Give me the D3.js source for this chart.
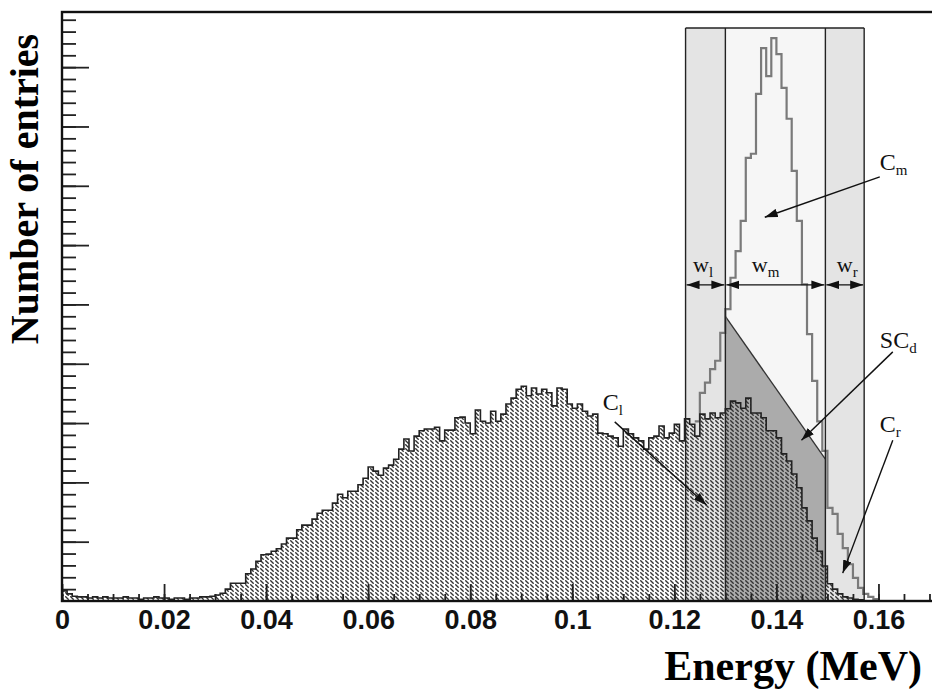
<!DOCTYPE html>
<html>
<head>
<meta charset="utf-8">
<script src="https://cdn.jsdelivr.net/npm/d3@7/dist/d3.min.js"></script>
<style>
  body { margin: 0; background: #fff; }
  svg { display: block; }
</style>
</head>
<body>
<div id="chart"></div>
<script>
// histogram, bins of 1 keV starting at 0 MeV
const binWidth = 0.001
// background spectrum (hatched, C_l + under the peak)
const bgCounts = [
  17, 12, 8, 7, 7, 5, 7, 5, 7, 5, 5, 5, 7, 5, 5, 3, 5, 5, 7, 5,
  5, 3, 5, 5, 3, 5, 5, 7, 7, 8, 10, 13, 20, 30, 30, 30, 46, 54, 67, 78,
  79, 84, 88, 96, 106, 106, 120, 128, 128, 138, 148, 153, 153, 165, 180, 174, 185, 185, 196, 207,
  226, 219, 212, 224, 229, 239, 256, 273, 253, 278, 287, 290, 290, 293, 270, 288, 288, 309, 310, 300,
  282, 322, 303, 300, 320, 303, 315, 332, 342, 357, 362, 346, 359, 349, 357, 351, 329, 359, 357, 332,
  325, 332, 320, 312, 315, 283, 282, 278, 275, 261, 290, 282, 275, 270, 256, 275, 278, 295, 275, 283,
  298, 270, 307, 298, 278, 315, 307, 317, 309, 317, 324, 337, 334, 325, 342, 317, 317, 309, 287, 287,
  275, 248, 236, 214, 191, 157, 135, 106, 84, 59, 29, 20, 12, 7, 5, 3, 2, 0, 0, 0,
  0, 0, 0, 0, 0, 0, 0, 0, 0, 0
]
// full spectrum with the photo-peak (grey outline), from bin 124 on
const totalStartBin = 124
const totalCounts = [
  303, 351, 368, 391, 405, 452, 492, 545, 590, 641, 747, 754, 855, 932, 885, 949, 922, 865,
  813, 725, 641, 534, 450, 371, 303, 253, 157, 147, 113, 89, 62, 39, 22, 12, 7, 3
]
// windows: left edge, l|m, m|r, right edge
const windowEdges = [0.1222, 0.13, 0.1496, 0.1572]
const windowTop = 966
const windowNames = ["l", "m", "r"]
// straight background estimate under the peak window
const bgLine = [[0.13, 480], [0.1496, 239]]

const xTicks = [0, 0.02, 0.04, 0.06, 0.08, 0.1, 0.12, 0.14, 0.16]
const xTickLabels = ["0", "0.02", "0.04", "0.06", "0.08", "0.1", "0.12", "0.14", "0.16"]
const yMajor = [100, 200, 300, 400, 500, 600, 700, 800, 900]

// annotations in data units (energy, entries)
const notes = [
  {t: "C", s: "m", e: 0.16026, n: 727},
  {t: "SC", s: "d", e: 0.16026, n: 427},
  {t: "C", s: "l", e: 0.10597, n: 322},
  {t: "C", s: "r", e: 0.16026, n: 285},
  {t: "w", s: "l", e: 0.12366, n: 555},
  {t: "w", s: "m", e: 0.13518, n: 555},
  {t: "w", s: "r", e: 0.15184, n: 555}
]
const pointers = [
  [0.16026, 715, 0.13772, 647],
  [0.16281, 420, 0.14491, 271],
  [0.10832, 302, 0.1263, 162],
  [0.16281, 271, 0.153, 47]
]
const widthArrowLevel = 533

var W = 932, H = 691
var svg = d3.select("#chart").append("svg")
    .attr("width", W)
    .attr("height", H)
    .style("background", "#fff")

var x = d3.scaleLinear().domain([0, 0.175]).range([62, 955])
var y = d3.scaleLinear().domain([0, 993]).range([601, 12])

var defs = svg.append("defs")
defs.append("clipPath").attr("id", "plot")
    .append("rect").attr("x", 62).attr("y", 12).attr("width", 893).attr("height", 589)

var hatch = defs.append("pattern").attr("id", "hatch")
    .attr("patternUnits", "userSpaceOnUse")
    .attr("width", 5).attr("height", 4)
hatch.append("path").attr("d", "M0.3,0.3L3.7,3.7")
    .attr("stroke", "#333").attr("stroke-width", 1.35).attr("fill", "none")

defs.append("marker").attr("id", "head")
    .attr("markerUnits", "userSpaceOnUse")
    .attr("viewBox", "0 0 12 8")
    .attr("markerWidth", 13).attr("markerHeight", 9)
    .attr("refX", 12).attr("refY", 4)
    .attr("orient", "auto-start-reverse")
    .append("path").attr("d", "M0,0L12,4L0,8Z").attr("fill", "#111")

var g = svg.append("g").attr("clip-path", "url(#plot)")

//window shading
var winFill = ["#e4e4e4", "#f6f6f6", "#e4e4e4"]
g.selectAll("rect.win")
    .data(windowNames)
    .enter()
    .append("rect")
    .attr("x", (d, i) => x(windowEdges[i]))
    .attr("y", y(windowTop))
    .attr("width", (d, i) => x(windowEdges[i + 1]) - x(windowEdges[i]))
    .attr("height", y(0) - y(windowTop))
    .attr("fill", (d, i) => winFill[i])

//linear background trapezoid
g.append("path")
    .attr("d", d3.area().x(d => x(d[0])).y0(y(0)).y1(d => y(d[1]))(bgLine))
    .attr("fill", "#ababab")
g.append("path")
    .attr("d", d3.line().x(d => x(d[0])).y(d => y(d[1]))(bgLine))
    .attr("stroke", "#333").attr("stroke-width", 1.3).attr("fill", "none")

//hatched spectrum
var bgPts = bgCounts.map((c, i) => [i * binWidth, c])
bgPts.push([bgCounts.length * binWidth, 0])

g.append("path")
    .attr("d", d3.area().curve(d3.curveStepAfter)
        .x(d => x(d[0])).y0(y(0)).y1(d => y(d[1]))(bgPts))
    .attr("fill", "url(#hatch)")

//peak outline
var totPts = totalCounts.map((c, i) => [(totalStartBin + i) * binWidth, c])
totPts.push([(totalStartBin + totalCounts.length) * binWidth, 0])
g.append("path")
    .attr("d", d3.line().curve(d3.curveStepAfter).x(d => x(d[0])).y(d => y(d[1]))(totPts))
    .attr("fill", "none").attr("stroke", "#7a7a7a").attr("stroke-width", 2.2)

g.append("path")
    .attr("d", d3.line().curve(d3.curveStepAfter).x(d => x(d[0])).y(d => y(d[1]))(bgPts))
    .attr("fill", "none").attr("stroke", "#222").attr("stroke-width", 1.6)

//window borders
g.selectAll("line.edge")
    .data(windowEdges)
    .enter()
    .append("line")
    .attr("x1", d => x(d)).attr("x2", d => x(d))
    .attr("y1", y(0)).attr("y2", y(windowTop))
    .attr("stroke", "#222").attr("stroke-width", 1.4)
g.append("line")
    .attr("x1", x(windowEdges[0])).attr("x2", x(windowEdges[3]))
    .attr("y1", y(windowTop)).attr("y2", y(windowTop))
    .attr("stroke", "#222").attr("stroke-width", 1.4)

//window width arrows
g.selectAll("line.w")
    .data(windowNames)
    .enter()
    .append("line")
    .attr("x1", (d, i) => x(windowEdges[i]) + 1)
    .attr("x2", (d, i) => x(windowEdges[i + 1]) - 1)
    .attr("y1", y(widthArrowLevel)).attr("y2", y(widthArrowLevel))
    .attr("stroke", "#111").attr("stroke-width", 1.4)
    .attr("marker-start", "url(#head)").attr("marker-end", "url(#head)")

//pointer arrows
g.selectAll("line.p")
    .data(pointers)
    .enter()
    .append("line")
    .attr("x1", d => x(d[0])).attr("y1", d => y(d[1]))
    .attr("x2", d => x(d[2])).attr("y2", d => y(d[3]))
    .attr("stroke", "#111").attr("stroke-width", 1.4)
    .attr("marker-end", "url(#head)")

//labels with subscripts
var lab = svg.append("g").selectAll("text")
    .data(notes)
    .enter()
    .append("text")
    .attr("x", d => x(d.e))
    .attr("y", d => y(d.n))
    .attr("font-family", "'Liberation Serif', 'Times New Roman', serif")
    .attr("font-size", d => d.t == "w" ? 22 : 24)
    .attr("fill", "#111")
lab.append("tspan").text(d => d.t)
lab.append("tspan").attr("dy", 5).attr("font-size", 15).text(d => d.s)

//axes
var xAxis = d3.axisBottom(x).tickValues(xTicks)
    .tickFormat((d, i) => xTickLabels[i])
    .tickSizeInner(-17).tickSizeOuter(0).tickPadding(9)
var xMinor = d3.axisBottom(x).tickValues(d3.range(0, 0.1751, 0.005))
    .tickFormat("").tickSizeInner(-7).tickSizeOuter(0)

var ax = svg.append("g").attr("transform", `translate(0,${y(0)})`).call(xMinor)
ax.select(".domain").remove()
var ax2 = svg.append("g").attr("transform", `translate(0,${y(0)})`).call(xAxis)
ax2.select(".domain").remove()
ax2.selectAll("text")
    .attr("font-family", "'Liberation Sans', Arial, sans-serif")
    .attr("font-weight", "bold")
    .attr("font-size", 27)
    .attr("fill", "#111")

var yAxis = d3.axisLeft(y).tickValues(yMajor).tickFormat("")
    .tickSizeInner(-27).tickSizeOuter(0)
var yMinor = d3.axisLeft(y).tickValues(d3.range(20, 993, 20)).tickFormat("")
    .tickSizeInner(-14).tickSizeOuter(0)
var ay = svg.append("g").attr("transform", `translate(${x(0)},0)`).call(yMinor)
ay.select(".domain").remove()
var ay2 = svg.append("g").attr("transform", `translate(${x(0)},0)`).call(yAxis)
ay2.select(".domain").remove()
svg.selectAll(".tick line").attr("stroke", "#222").attr("stroke-width", 1.8)

//frame
svg.append("rect")
    .attr("x", 62).attr("y", 12).attr("width", 893).attr("height", 589)
    .attr("fill", "none").attr("stroke", "#111").attr("stroke-width", 2.4)

//titles
svg.append("text")
    .attr("transform", "translate(38,189) rotate(-90)")
    .attr("text-anchor", "middle")
    .attr("font-family", "'Liberation Serif', 'Times New Roman', serif")
    .attr("font-weight", "bold")
    .attr("font-size", 40)
    .text("Number of entries")

svg.append("text")
    .attr("x", 922).attr("y", 680)
    .attr("text-anchor", "end")
    .attr("font-family", "'Liberation Serif', 'Times New Roman', serif")
    .attr("font-weight", "bold")
    .attr("font-size", 42)
    .text("Energy (MeV)")
</script>
</body>
</html>
